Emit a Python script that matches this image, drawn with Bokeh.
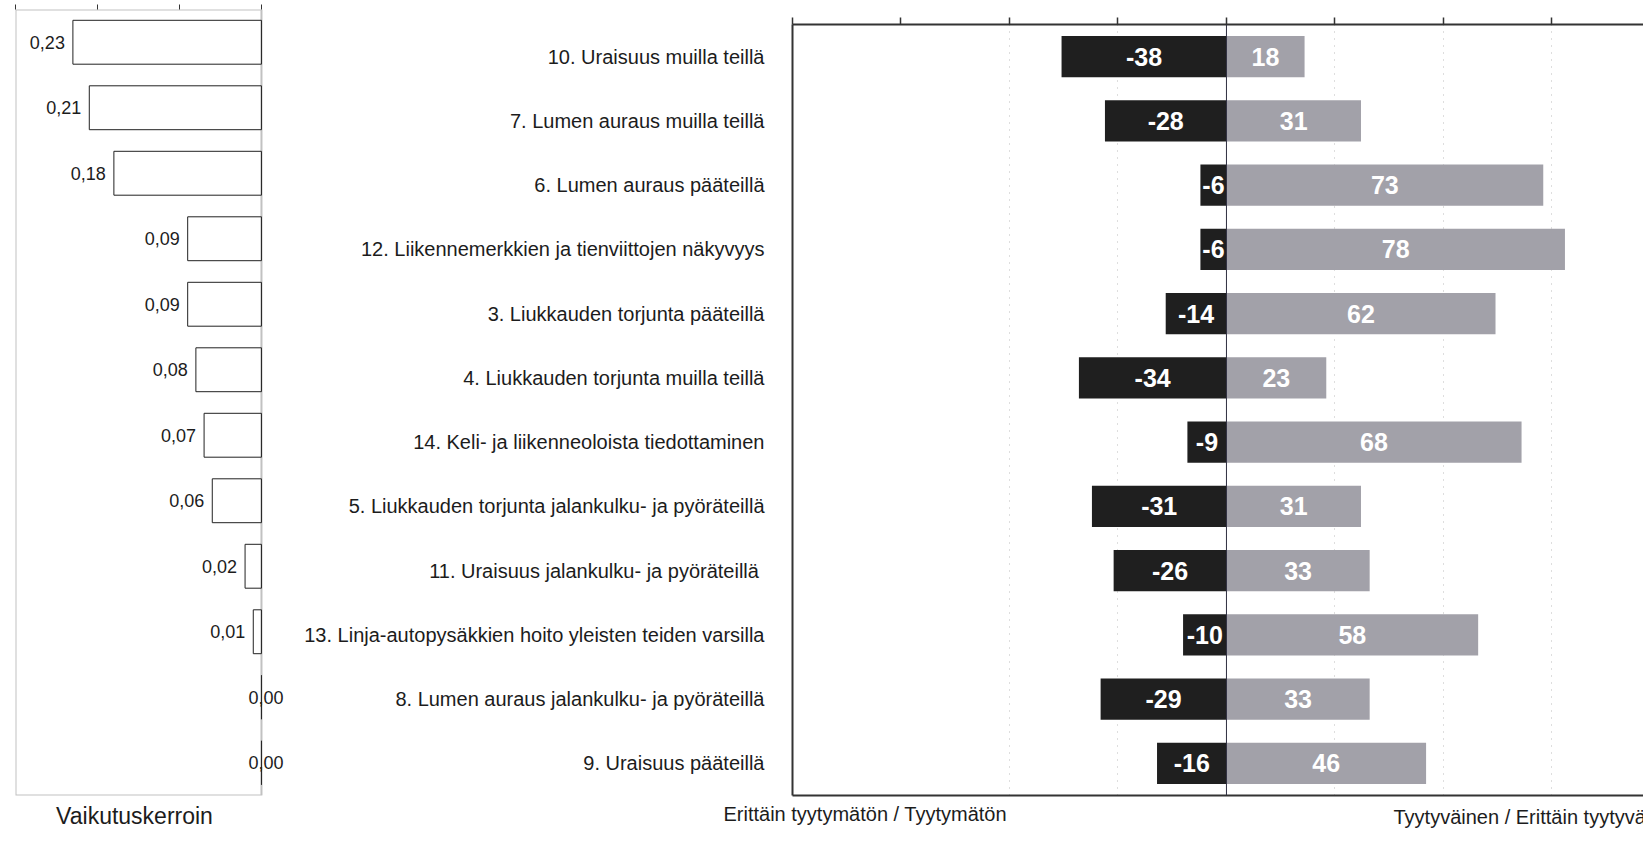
from bokeh.plotting import figure
from bokeh.models import (ColumnDataSource, FactorRange, Range1d, LinearAxis, FixedTicker,
                          LabelSet, Label, Span, Grid, BoxAnnotation)
from bokeh.layouts import row, column
from bokeh.embed import file_html
from bokeh.resources import INLINE
from bokeh.core.properties import value

# ---------------- data ----------------
categories = [
    "10. Uraisuus muilla teillä",
    "7. Lumen auraus muilla teillä",
    "6. Lumen auraus pääteillä",
    "12. Liikennemerkkien ja tienviittojen näkyvyys",
    "3. Liukkauden torjunta pääteillä",
    "4. Liukkauden torjunta muilla teillä",
    "14. Keli- ja liikenneoloista tiedottaminen",
    "5. Liukkauden torjunta jalankulku- ja pyöräteillä",
    "11. Uraisuus  jalankulku- ja pyöräteillä",
    "13. Linja-autopysäkkien hoito yleisten teiden varsilla",
    "8. Lumen auraus jalankulku- ja pyöräteillä",
    "9. Uraisuus pääteillä",
]
dissatisfied = [-38, -28, -6, -6, -14, -34, -9, -31, -26, -10, -29, -16]
satisfied = [18, 31, 73, 78, 62, 23, 68, 31, 33, 58, 33, 46]
coefficients = [0.23, 0.21, 0.18, 0.09, 0.09, 0.08, 0.07, 0.06, 0.02, 0.01, 0.00, 0.00]

left_ticks = [0, 0.1, 0.2, 0.3]
right_ticks = [-100, -75, -50, -25, 0, 25, 50, 75, 100]
grid_ticks = [-50, -25, 25, 50, 75]

left_title = "Vaikutuskerroin"
neg_title = "Erittäin tyytymätön / Tyytymätön"
pos_title = "Tyytyväinen / Erittäin tyytyväinen"

# ---------------- styling ----------------
MAIN_H = 798
STRIP_H = 34
LEFT_W = 301
RIGHT_W = 1342
FONT = "Liberation Sans"
DARK = "#1f1f1f"
LIGHT = "#a2a1a9"
LINE = "#333333"
TXT = "#1c1c1c"

factors = list(reversed(categories))

# ---------------- left chart ----------------
pl = figure(width=LEFT_W, height=MAIN_H, x_range=Range1d(0.3, -0.0354),
            y_range=FactorRange(factors=factors, range_padding=0),
            output_backend="svg", toolbar_location=None,
            x_axis_location=None, y_axis_location=None, frame_align=False,
            min_border_left=15, min_border_right=11, min_border_top=9, min_border_bottom=3)
pl.outline_line_color = None
pl.grid.visible = False
pl.background_fill_color = "white"
pl.border_fill_color = "white"

ax_l = LinearAxis(ticker=FixedTicker(ticks=[], minor_ticks=left_ticks),
                  minor_tick_out=5, minor_tick_in=0, major_label_standoff=0,
                  axis_line_color=None, minor_tick_line_color=LINE, major_tick_line_color=None)
pl.add_layout(ax_l, "above")

# box of the coefficient chart (from 0 to 0.3)
pl.add_layout(BoxAnnotation(left=left_ticks[-1], right=left_ticks[0], fill_color=None,
                            line_color=LINE, line_width=2))

src_l = ColumnDataSource(dict(
    cat=categories,
    coef=coefficients,
    zero=[0] * len(categories),
    lbl=[f"{v:.2f}".replace(".", ",") for v in coefficients],
    xoff=[-8 if v > 0 else 22 for v in coefficients],
))
pl.hbar(y="cat", left="zero", right="coef", height=0.67, source=src_l,
        fill_color="white", line_color="#222222", line_width=1)
pl.add_layout(LabelSet(x="coef", y="cat", text="lbl", source=src_l, x_offset="xoff",
                       text_align="right", text_baseline="middle",
                       text_font=value(FONT), text_font_size="18px", text_color=TXT))

# ---------------- right chart ----------------
pr = figure(width=RIGHT_W, height=MAIN_H, x_range=Range1d(-100, 96.1),
            y_range=FactorRange(factors=factors, range_padding=0),
            output_backend="svg", toolbar_location=None,
            x_axis_location=None, y_axis_location="left", frame_align=False,
            min_border_left=487, min_border_right=0, min_border_top=24, min_border_bottom=3)
pr.outline_line_color = None
pr.grid.visible = False
pr.background_fill_color = "white"
pr.border_fill_color = "white"

pr.yaxis.axis_line_color = LINE
pr.yaxis.axis_line_width = 2
pr.yaxis.major_tick_line_color = None
pr.yaxis.minor_tick_line_color = None
pr.yaxis.major_label_standoff = 22
pr.yaxis.major_label_text_font = FONT
pr.yaxis.major_label_text_font_size = "20px"
pr.yaxis.major_label_text_color = TXT

ax_r = LinearAxis(ticker=FixedTicker(ticks=[], minor_ticks=right_ticks),
                  minor_tick_out=7, minor_tick_in=0, major_label_standoff=0,
                  axis_line_color=LINE, axis_line_width=2,
                  minor_tick_line_color=LINE, minor_tick_line_width=1.5,
                  major_tick_line_color=None)
pr.add_layout(ax_r, "above")
bx_r = LinearAxis(ticker=FixedTicker(ticks=[], minor_ticks=[]), major_label_standoff=0,
                  axis_line_color=LINE, axis_line_width=2,
                  major_tick_line_color=None, minor_tick_line_color=None)
pr.add_layout(bx_r, "below")

pr.add_layout(Grid(dimension=0, ticker=FixedTicker(ticks=grid_ticks),
                   grid_line_color="#bdbdbd", grid_line_dash="1 6", grid_line_width=1))

src_r = ColumnDataSource(dict(
    cat=categories,
    neg=dissatisfied,
    pos=satisfied,
    zero=[0] * len(categories),
    neg_mid=[v / 2 for v in dissatisfied],
    pos_mid=[v / 2 for v in satisfied],
    neg_lbl=[str(v) for v in dissatisfied],
    pos_lbl=[str(v) for v in satisfied],
))
pr.hbar(y="cat", left="neg", right="zero", height=0.64, source=src_r,
        fill_color=DARK, line_color=None)
pr.hbar(y="cat", left="zero", right="pos", height=0.64, source=src_r,
        fill_color=LIGHT, line_color=None)
pr.add_layout(Span(location=0, dimension="height", line_color="#2e2e40", line_width=1))

for xcol, tcol in (("neg_mid", "neg_lbl"), ("pos_mid", "pos_lbl")):
    pr.add_layout(LabelSet(x=xcol, y="cat", text=tcol, source=src_r,
                           text_align="center", text_baseline="middle",
                           text_font=value(FONT), text_font_style="bold",
                           text_font_size="25px", text_color="white"))

# ---------------- bottom strip with the titles ----------------
W = LEFT_W + RIGHT_W
strip = figure(width=W, height=STRIP_H, x_range=Range1d(0, W), y_range=Range1d(0, STRIP_H),
               output_backend="svg", toolbar_location=None,
               x_axis_location=None, y_axis_location=None, frame_align=False,
               min_border_left=0, min_border_right=0, min_border_top=0, min_border_bottom=0)
strip.outline_line_color = None
strip.grid.visible = False
strip.add_layout(Label(x=134, y=STRIP_H / 2, text=left_title, text_align="center",
                       text_baseline="middle", text_font=FONT,
                       text_font_size="23px", text_color=TXT))
strip.add_layout(Label(x=723, y=STRIP_H / 2 + 2, text=neg_title, text_align="left",
                       text_baseline="middle", text_font=FONT,
                       text_font_size="20px", text_color=TXT))
strip.add_layout(Label(x=1393, y=STRIP_H / 2 - 1, text=pos_title, text_align="left",
                       text_baseline="middle", text_font=FONT,
                       text_font_size="20px", text_color=TXT))

layout = column(row(pl, pr), strip)
open("out.html", "w").write(file_html(layout, INLINE))
